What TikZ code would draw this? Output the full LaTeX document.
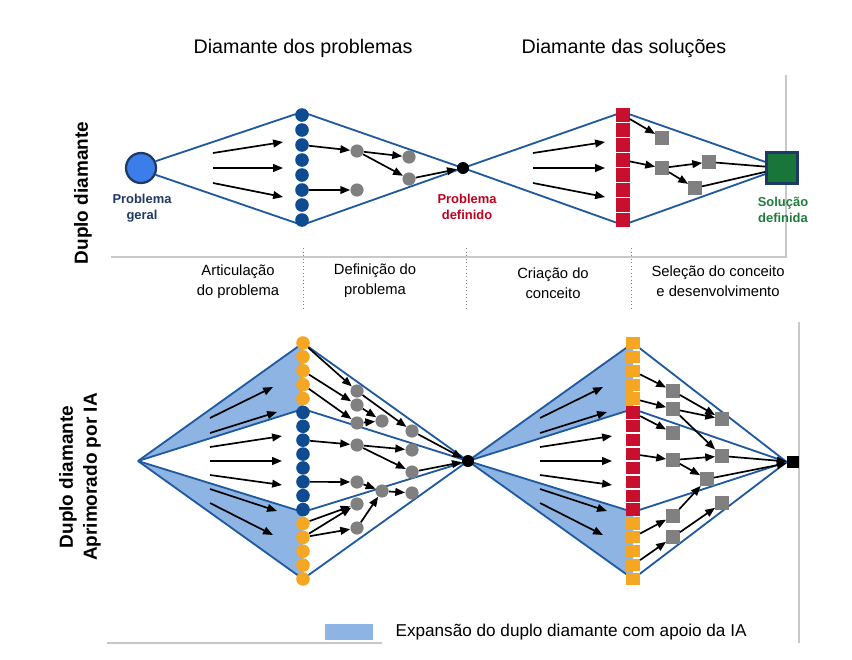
\documentclass[tikz,border=0pt]{standalone}
\usepackage{fontspec}
\setmainfont{Liberation Sans}
\usetikzlibrary{arrows, arrows.meta}
\usetikzlibrary{positioning}

\definecolor{diablue}{RGB}{31,90,160}
\definecolor{dotblue}{RGB}{14,75,145}
\definecolor{iaorange}{RGB}{245,166,35}
\definecolor{solred}{RGB}{200,16,46}
\definecolor{nodegray}{RGB}{128,128,128}
\definecolor{iafill}{RGB}{141,180,226}
\definecolor{probnavy}{RGB}{31,56,100}
\definecolor{geralblue}{RGB}{59,125,233}
\definecolor{solgreen}{RGB}{24,118,58}
\definecolor{soltext}{RGB}{30,125,60}
\definecolor{deftext}{RGB}{192,0,32}
\definecolor{framegray}{RGB}{200,200,200}

\pgfdeclarelayer{background}
\pgfsetlayers{background,main}

\begin{document}
\begin{tikzpicture}[x=0.025cm, y=-0.025cm,
  dia/.style={draw=diablue, line width=1.3pt},
  arr/.style={-{Triangle[length=7pt,width=5.5pt]}, line width=1.2pt, black},
  bdot/.style={circle, fill=dotblue, inner sep=0pt, minimum size=0.34cm},
  odot/.style={circle, fill=iaorange, inner sep=0pt, minimum size=0.34cm},
  gdot/.style={circle, fill=nodegray, inner sep=0pt, minimum size=0.33cm},
  rsq/.style={rectangle, fill=solred, inner sep=0pt, minimum width=0.33cm, minimum height=0.34cm},
  iasq/.style={rectangle, inner sep=0pt, minimum width=0.34cm, minimum height=0.305cm},
  gsq/.style={rectangle, fill=nodegray, inner sep=0pt, minimum size=0.33cm},
  frame/.style={draw=framegray, line width=0.8pt},
  sep/.style={draw=nodegray, dotted, line width=0.5pt},
  title/.style={font=\fontsize{14}{17}\selectfont},
  side/.style={font=\bfseries\fontsize{13.5}{17}\selectfont, align=center, rotate=90},
  phase/.style={font=\fontsize{10.5}{14.2}\selectfont, align=center},
  lbl/.style={font=\bfseries\fontsize{9.2}{11.4}\selectfont, align=center}]
\useasboundingbox (0,0) rectangle (852,659);

\node[title] (titprob) at (303,48) {Diamante dos problemas};
\node[title] (titsol) at (624,48) {Diamante das soluções};
\node[side] (ddtop) at (83,193) {Duplo diamante};
\node[side] (ddia) at (80,477) {Duplo diamante\\Aprimorado por IA};

\draw[frame] (111,257) -- (786,257) -- (786,75);
\draw[frame] (107,643) -- (382,643);
\draw[frame] (799,322) -- (799,643);
\foreach \x in {303,466,631}
  \draw[sep] (\x,248) -- (\x,308);

\node[phase] (artic) at (238,282) {Articulação\\do problema};
\node[phase] (defin) at (375,281) {Definição do\\problema};
\node[phase] (criac) at (553,283) {Criação do\\conceito};
\node[phase] (selec) at (718,281) {Seleção do conceito\\e desenvolvimento};

% duplo diamante
\node[circle, draw=probnavy, line width=1.6pt, fill=geralblue, minimum size=0.75cm] (geral) at (141,168) {};
\node[lbl, text=probnavy] (geraltxt) at (142,208) {Problema\\geral};
\node[circle, fill=black, inner sep=0pt, minimum size=0.3cm] (pdef) at (463,168) {};
\node[lbl, text=deftext] (deftxt) at (467,207) {Problema\\definido};
\node[rectangle, draw=probnavy, line width=1.8pt, fill=solgreen, minimum size=0.78cm] (sol) at (782,168) {};
\node[lbl, text=soltext] (soltxt) at (783,210) {Solução\\definida};
\coordinate (pt) at (302,112);
\coordinate (pb) at (302,225);
\coordinate (st) at (623,112);
\coordinate (sb) at (623,225);

\begin{pgfonlayer}{background}
\draw[dia] (geral.25) -- (pt) -- (pdef.center) -- (pb) -- (geral.-25);
\draw[dia] (pdef.center) -- (st) -- (sol.160);
\draw[dia] (pdef.center) -- (sb) -- (sol.200);
\end{pgfonlayer}

\foreach \i in {1,...,8}
  \node[bdot] (pd\i) at (302,{100+15*\i}) {};
\foreach \i in {1,...,8}
  \node[rsq] (ps\i) at (623,{100+15*\i}) {};

\foreach \a/\b/\c/\d in {213/153/283/142, 213/168/283/168, 213/183/283/197,
                         533/153/605/142, 533/168/605/168, 533/183/605/197}
  \draw[arr] (\a,\b) -- (\c,\d);

\node[gdot] (g1) at (357,151) {};
\node[gdot] (g2) at (409,157) {};
\node[gdot] (g3) at (409,179) {};
\node[gdot] (g4) at (357,190) {};
\draw[arr] (pd3) -- (g1);
\draw[arr] (g1) -- (g2);
\draw[arr] (g1) -- (g3);
\draw[arr] (g3) -- (pdef);
\draw[arr] (pd6) -- (g4);

\node[gsq] (s1) at (662,138) {};
\node[gsq] (s2) at (662,168) {};
\node[gsq] (s3) at (709,162) {};
\node[gsq] (s4) at (695,188) {};
\draw[arr] (ps1) -- (s1);
\draw[arr] (ps4) -- (s2);
\draw[arr] (s2) -- (s3);
\draw[arr] (s2) -- (s4);
\draw[line width=1.2pt] (s3) -- (sol);
\draw[line width=1.2pt] (s4) -- (sol);

% duplo diamante aprimorado por IA
\coordinate (iaL) at (138,461);
\node[circle, fill=black, inner sep=0pt, minimum size=0.3cm] (iadef) at (468,461) {};
\node[rectangle, fill=black, inner sep=0pt, minimum size=0.3cm] (iasol) at (793,462) {};

\begin{pgfonlayer}{background}
\fill[iafill] (iaL) -- (303,343) -- (303,409) -- cycle;
\fill[iafill] (iaL) -- (303,579) -- (303,512) -- cycle;
\fill[iafill] (iadef.center) -- (633,343) -- (633,409) -- cycle;
\fill[iafill] (iadef.center) -- (633,579) -- (633,512) -- cycle;
\foreach \y in {343,409,512,579} {
  \draw[dia] (iaL) -- (303,\y) -- (iadef.center);
  \draw[dia] (iadef.center) -- (633,\y) -- (iasol.west);
}
\end{pgfonlayer}

\foreach \i in {1,...,5}
  \node[odot] (ad\i) at (303,{329.12+13.88*\i}) {};
\foreach \i in {6,...,13}
  \node[bdot] (ad\i) at (303,{329.12+13.88*\i}) {};
\foreach \i in {14,...,18}
  \node[odot] (ad\i) at (303,{329.12+13.88*\i}) {};
\foreach \i in {1,...,5}
  \node[iasq, fill=iaorange] (as\i) at (633,{329.12+13.88*\i}) {};
\foreach \i in {6,...,13}
  \node[iasq, fill=solred] (as\i) at (633,{329.12+13.88*\i}) {};
\foreach \i in {14,...,18}
  \node[iasq, fill=iaorange] (as\i) at (633,{329.12+13.88*\i}) {};

\foreach \a/\b/\c/\d in {210/418/273/387, 210/433/277/412, 210/447/282/436, 210/461/282/461,
                         210/475/282/485, 210/489/277/511, 210/503/273/535,
                         540/418/603/387, 540/433/607/412, 540/447/612/436, 540/461/612/461,
                         540/475/612/485, 540/489/607/511, 540/503/603/535}
  \draw[arr] (\a,\b) -- (\c,\d);

\node[gdot] (ga) at (357,391) {};
\node[gdot] (gb) at (357,405) {};
\node[gdot] (gc) at (357,423) {};
\node[gdot] (gd) at (382,421) {};
\node[gdot] (ge) at (412,431) {};
\node[gdot] (gf) at (357,445) {};
\node[gdot] (gg) at (412,450) {};
\node[gdot] (gh) at (412,472) {};
\node[gdot] (gi) at (357,482) {};
\node[gdot] (gj) at (382,491) {};
\node[gdot] (gk) at (412,493) {};
\node[gdot] (gl) at (357,504) {};
\node[gdot] (gm) at (357,528) {};
\draw[arr] (ad1) -- (ga);
\draw[arr] (ad3) -- (gb);
\draw[arr] (ad4) -- (gc);
\draw[arr] (ga) -- (ge);
\draw[arr] (gb) -- (gd);
\draw[arr] (gc) -- (gd);
\draw[arr] (ge) -- (iadef);
\draw[arr] (ad8) -- (gf);
\draw[arr] (gf) -- (gg);
\draw[arr] (gf) -- (gh);
\draw[arr] (gh) -- (iadef);
\draw[arr] (ad11) -- (gi);
\draw[arr] (gi) -- (gj);
\draw[arr] (gj) -- (gk);
\draw[arr] (ad14) -- (gl);
\draw[arr] (ad15) -- (gl);
\draw[arr] (ad15) -- (gm);
\draw[arr] (gm) -- (gj);

\node[gsq] (sa) at (673,391) {};
\node[gsq] (sb2) at (673,409) {};
\node[gsq] (sc) at (722,419) {};
\node[gsq] (sd) at (673,433) {};
\node[gsq] (se) at (673,460) {};
\node[gsq] (sf) at (722,456) {};
\node[gsq] (sg) at (707,479) {};
\node[gsq] (sh) at (722,503) {};
\node[gsq] (si) at (673,516) {};
\node[gsq] (sj) at (673,537) {};
\draw[arr] (as3) -- (sa);
\draw[arr] (as5) -- (sb2);
\draw[arr] (sa) -- (sc);
\draw[arr] (sb2) -- (sc);
\draw[arr] (sb2) -- (sf);
\draw[arr] (as6) -- (sd);
\draw[arr] (as9) -- (se);
\draw[arr] (se) -- (sf);
\draw[arr] (se) -- (sg);
\draw[arr] (sf) -- (iasol);
\draw[arr] (sg) -- (iasol);
\draw[arr] (si) -- (sg);
\draw[arr] (sj) -- (sh);
\draw[arr] (as15) -- (si);
\draw[arr] (as17) -- (sj);

\node[rectangle, fill=iafill, inner sep=0pt, minimum width=1.2cm, minimum height=0.4cm] (legpatch) at (349,632) {};
\node[right=0.55cm of legpatch, inner sep=0pt, font=\fontsize{12.2}{14}\selectfont] (legtxt) {Expansão do duplo diamante com apoio da IA};
\end{tikzpicture}
\end{document}
